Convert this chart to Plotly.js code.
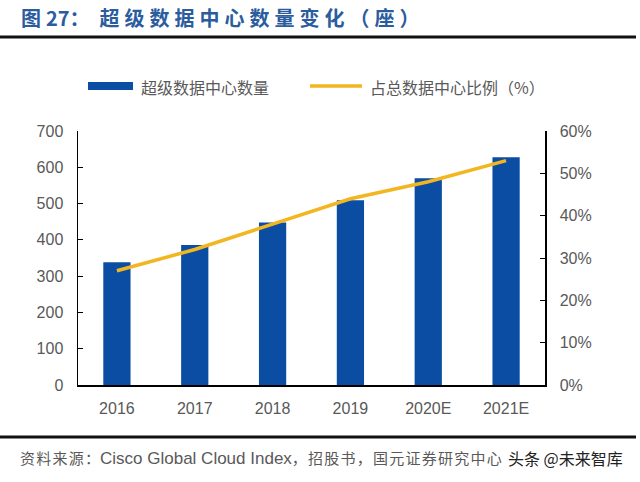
<!DOCTYPE html>
<html><head><meta charset="utf-8">
<script src="https://cdn.plot.ly/plotly-3.0.1.min.js"></script>
<style>html,body{margin:0;padding:0;background:#fff}#c{width:640px;height:482px}</style>
</head><body><div id="c"></div>
<script>
var categories = ['2016','2017','2018','2019','2020E','2021E'];
var counts = [338, 386, 448, 509, 570, 628];
var shares = [0.27, 0.32, 0.38, 0.44, 0.48, 0.53];
var leftTicks = [0,100,200,300,400,500,600,700];
var rightTicks = [0,0.1,0.2,0.3,0.4,0.5,0.6];

var L=78, R=545, T=131, B=385;
function px(x){return (x-L)/(R-L);}
function py(y){return (B-y)/(B-T);}

var fontCJK = '"Noto Sans CJK SC", "Liberation Sans", Arial, sans-serif';
var fontMix = '"Liberation Sans", "Noto Sans CJK SC", Arial, sans-serif';
var fontNum = '"Liberation Sans", Arial, sans-serif';
function spaced(s, sp){ return s.split('').join(sp); }

var traces = [
  {type:'bar', x:categories, y:counts, name:'超级数据中心数量', marker:{color:'#0B4DA2'}, width:0.35, showlegend:false},
  {type:'scatter', mode:'lines', x:categories, y:shares, yaxis:'y2', name:'占总数据中心比例（%）', line:{color:'#F2B720', width:3.5}, showlegend:false}
];

var titleText = '<b>' + '图\u2005' + '27' + '：\u2005\u2005' + spaced('超级数据中心数量变化（座）', '\u2005') + '</b>';
var sourceText = spaced('资料来源：', '\u200A') + '<span style="font-size:17px">Cisco Global Cloud Index</span>' + spaced('，招股书，国元证券研究中心', '\u200A');

var layout = {
  width:640, height:482,
  margin:{l:L, r:640-R, t:T, b:482-B, pad:0},
  paper_bgcolor:'#fff', plot_bgcolor:'#fff',
  xaxis:{type:'category', showline:true, linecolor:'#000', linewidth:1.5, ticks:'', showgrid:false, zeroline:false,
         tickfont:{family:fontNum, size:16, color:'#595959'}, ticklabelstandoff:8},
  yaxis:{range:[0,700], tickvals:leftTicks, showline:true, linecolor:'#000', linewidth:1.5, ticks:'inside', ticklen:5, tickcolor:'#000',
         showgrid:false, zeroline:false, tickfont:{family:fontNum, size:16, color:'#595959'}, ticklabelstandoff:10},
  yaxis2:{range:[0,0.6], tickvals:rightTicks, tickformat:'.0%', overlaying:'y', side:'right', showline:true, linecolor:'#000', linewidth:1.5,
          ticks:'inside', ticklen:5, tickcolor:'#000', showgrid:false, zeroline:false,
          tickfont:{family:fontNum, size:16, color:'#595959'}, ticklabelstandoff:10},
  shapes:[
    {type:'line', xref:'paper', yref:'paper', x0:px(0), x1:px(636), y0:py(37), y1:py(37), line:{color:'#111', width:3}},
    {type:'line', xref:'paper', yref:'paper', x0:px(0), x1:px(636), y0:py(437), y1:py(437), line:{color:'#111', width:3}},
    {type:'rect', xref:'paper', yref:'paper', x0:px(88), x1:px(133), y0:py(82), y1:py(90), fillcolor:'#0B4DA2', line:{width:0}},
    {type:'line', xref:'paper', yref:'paper', x0:px(310), x1:px(362), y0:py(86), y1:py(86), line:{color:'#F2B720', width:3.5}}
  ],
  annotations:[
    {xref:'paper', yref:'paper', x:px(19), y:py(18), xanchor:'left', yanchor:'middle', showarrow:false,
     text:titleText, font:{family:fontCJK, size:20, color:'#2B5C9E'}},
    {xref:'paper', yref:'paper', x:px(139), y:py(87), xanchor:'left', yanchor:'middle', showarrow:false,
     text:'超级数据中心数量', font:{family:fontCJK, size:16, color:'#595959'}},
    {xref:'paper', yref:'paper', x:px(368), y:py(87), xanchor:'left', yanchor:'middle', showarrow:false,
     text:'占总数据中心比例（%）', font:{family:fontCJK, size:16, color:'#595959'}},
    {xref:'paper', yref:'paper', x:px(18), y:py(458), xanchor:'left', yanchor:'middle', showarrow:false,
     text:sourceText, font:{family:fontMix, size:15, color:'#595959'}},
    {xref:'paper', yref:'paper', x:px(506), y:py(458), xanchor:'left', yanchor:'middle', showarrow:false, bgcolor:'#fff',
     text:'头条 @未来智库', font:{family:fontCJK, size:16, color:'#222'}}
  ]
};
Plotly.newPlot('c', traces, layout, {displayModeBar:false, staticPlot:true});
</script></body></html>
